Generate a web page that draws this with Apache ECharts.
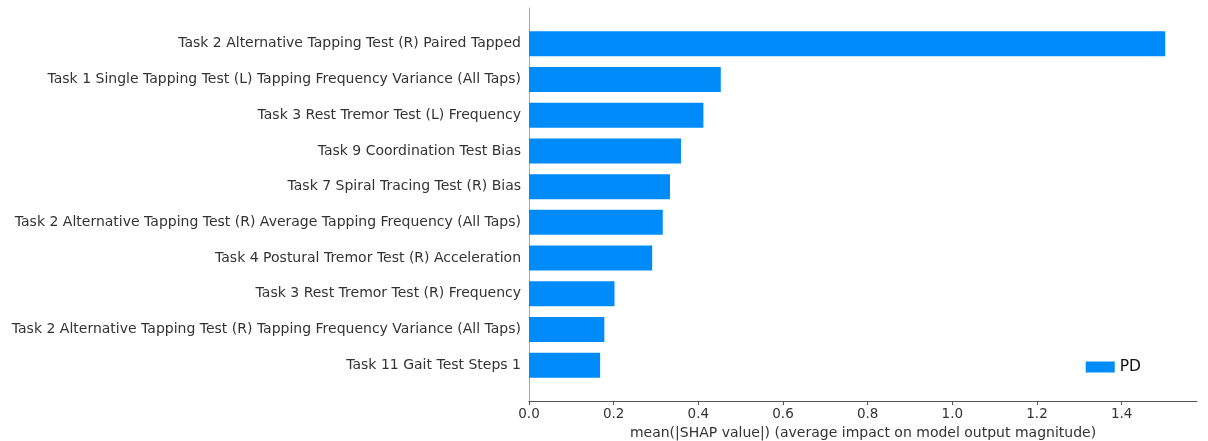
<!DOCTYPE html>
<html>
<head>
<meta charset="utf-8">
<script src="https://cdn.jsdelivr.net/npm/echarts@6/dist/echarts.min.js"></script>
<style>
  html, body { margin: 0; padding: 0; background: #fff; }
  #chart { width: 1208px; height: 441px; }
</style>
</head>
<body>
<div id="chart"></div>
<script>
// Features, top to bottom, with their mean |SHAP| values
const features = [
  'Task 2 Alternative Tapping Test (R) Paired Tapped',
  'Task 1 Single Tapping Test (L) Tapping Frequency Variance (All Taps)',
  'Task 3 Rest Tremor Test (L) Frequency',
  'Task 9 Coordination Test Bias',
  'Task 7 Spiral Tracing Test (R) Bias',
  'Task 2 Alternative Tapping Test (R) Average Tapping Frequency (All Taps)',
  'Task 4 Postural Tremor Test (R) Acceleration',
  'Task 3 Rest Tremor Test (R) Frequency',
  'Task 2 Alternative Tapping Test (R) Tapping Frequency Variance (All Taps)',
  'Task 11 Gait Test Steps 1'
];
const meanShapPD = [1.503, 0.453, 0.412, 0.359, 0.333, 0.316, 0.291, 0.202, 0.178, 0.168];
const xTicks = [0, 0.2, 0.4, 0.6, 0.8, 1.0, 1.2, 1.4];
const xMax = 1.578;

// One empty slot above and below the bars leaves a one-row margin at each end
const axisCats = [''].concat(features, ['']);
const barData = [null].concat(meanShapPD, [null]);

const textColor = '#333333';
const fontFamily = '"DejaVu Sans", sans-serif';

const chart = echarts.init(document.getElementById('chart'), null, { renderer: 'canvas' });
chart.setOption({
  animation: false,
  backgroundColor: '#ffffff',
  textStyle: { fontFamily: fontFamily },
  grid: { left: 529, right: 11, top: 8, bottom: 40, containLabel: false, outerBoundsMode: 'none' },
  legend: {
    data: ['PD'],
    right: 62,
    bottom: 61,
    itemWidth: 29,
    itemHeight: 11,
    itemGap: 9,
    icon: 'rect',
    textStyle: { fontSize: 15.5, color: '#111111', fontFamily: fontFamily }
  },
  xAxis: {
    type: 'value',
    min: 0,
    max: xMax,
    interval: 0.2,
    name: 'mean(|SHAP value|) (average impact on model output magnitude)',
    nameLocation: 'middle',
    nameGap: 19,
    nameTextStyle: { fontSize: 14, color: textColor, fontFamily: fontFamily },
    axisLine: { show: true, lineStyle: { color: '#555555', width: 1 } },
    axisTick: { show: true, length: 4, inside: false, customValues: xTicks, lineStyle: { color: '#555555' } },
    axisLabel: {
      customValues: xTicks,
      formatter: v => v.toFixed(1),
      fontSize: 13.5,
      color: textColor,
      margin: 6,
      fontFamily: fontFamily
    },
    splitLine: { show: false }
  },
  yAxis: {
    type: 'category',
    data: axisCats,
    inverse: true,
    boundaryGap: false,
    axisLine: { show: true, lineStyle: { color: '#aaaaaa', width: 1 } },
    axisTick: { show: false },
    axisLabel: { fontSize: 14, color: textColor, margin: 8, fontFamily: fontFamily, interval: 0 },
    splitLine: { show: false }
  },
  series: [{
    name: 'PD',
    type: 'bar',
    data: barData,
    barWidth: '70%',
    itemStyle: { color: '#008bfb' }
  }]
});
</script>
</body>
</html>
